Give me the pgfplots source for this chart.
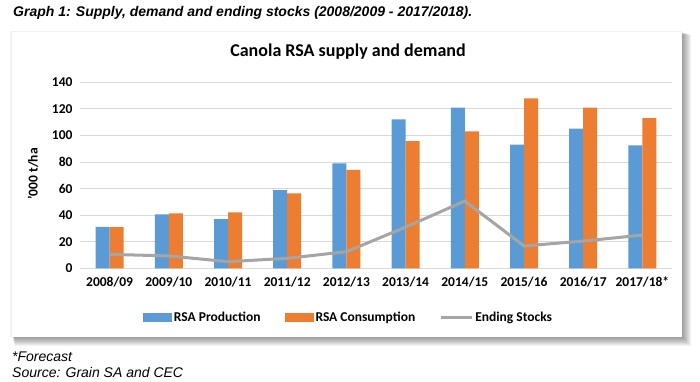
\documentclass[border=0pt]{standalone}
\usepackage{fontspec}
\setmainfont{Carlito}
\newfontfamily\arialf{Liberation Sans}
\usepackage{pgfplots}
\pgfplotsset{compat=1.18}
\definecolor{cblue}{HTML}{5B9BD5}
\definecolor{corange}{HTML}{ED7D31}
\definecolor{cgray}{HTML}{A5A5A5}
\definecolor{cgrid}{HTML}{D9D9D9}
\pgfplotstableread{
x prod cons stocks
0 31.1 31.0 10.5
1 40.6 41.4 9.3
2 37.1 42.1 5.0
3 58.9 56.4 7.5
4 79.0 74.0 12.5
5 112.1 95.8 31.0
6 120.9 103.1 50.6
7 93.0 127.9 16.8
8 105.1 120.9 20.5
9 92.6 113.1 25.0
}\datatable
\begin{document}
\begin{tikzpicture}[x=1pt,y=1pt]
\useasboundingbox (0,0) rectangle (700,382);
% shadow
\foreach \k in {9,8,...,1}{
  \fill[black,opacity=0.05] (12+0.3*\k,45-\k) rectangle (682+\k,350-0.3*\k);
}
\fill[black,opacity=0.05] (10,45) rectangle (682,351);
\fill[white] (12,45) rectangle (682,350);
\node[anchor=west,inner sep=0pt,font=\arialf\bfseries\itshape\fontsize{14}{16}\selectfont] at (13,369) {Graph 1: Supply, demand and ending stocks (2008/2009 - 2017/2018).};
\node[anchor=west,inner sep=0pt,font=\arialf\itshape\fontsize{14}{16}\selectfont] at (12,25) {*Forecast};
\node[anchor=west,inner sep=0pt,font=\arialf\itshape\fontsize{14}{16}\selectfont] at (12,9) {Source: Grain SA and CEC};
\node[font=\bfseries\fontsize{18}{21}\selectfont] at (348,330) {Canola RSA supply and demand};
\node[rotate=90,font=\bfseries\fontsize{13.5}{16}\selectfont] at (33,208) {'000 t/ha};
\begin{axis}[
  at={(80pt,113.7pt)}, anchor=south west,
  scale only axis, width=592pt, height=186pt,
  xmin=-0.5, xmax=9.5, ymin=0, ymax=140,
  ytick={0,20,...,140},
  xtick=data,
  xticklabels={2008/09,2009/10,2010/11,2011/12,2012/13,2013/14,2014/15,2015/16,2016/17,2017/18*},
  ymajorgrids, major grid style={cgrid,line width=0.8pt},
  axis x line*=bottom, axis y line*=left,
  x axis line style={cgrid,line width=0.8pt,-},
  y axis line style={draw=none},
  major tick length=0pt,
  tick style={draw=none},
  /pgf/number format/assume math mode=true,
  ticklabel style={font=\bfseries\fontsize{13.5}{16}\selectfont},
  xticklabel style={yshift=-5pt},
  yticklabel style={xshift=-4pt},
  ybar=0pt, bar width=14pt,
  legend columns=3,
  legend style={at={(0.4535,-0.267)},anchor=center,draw=none,fill=none,
    font=\bfseries\fontsize{13.5}{16}\selectfont,
    /tikz/every even column/.append style={column sep=22pt}},
  legend cell align=left,
]
\addplot[fill=cblue,draw=none,bar shift=-7pt,
  legend image code/.code={\fill[cblue] (0pt,-4.5pt) rectangle (29pt,4.5pt);}]
  table[x=x,y=prod]{\datatable};
\addlegendentry{RSA Production}
\addplot[fill=corange,draw=none,bar shift=7pt,
  legend image code/.code={\fill[corange] (0pt,-4.5pt) rectangle (29pt,4.5pt);}]
  table[x=x,y=cons]{\datatable};
\addlegendentry{RSA Consumption}
\addplot[sharp plot,cgray,line width=3pt,mark=none,
  legend image code/.code={\draw[cgray,line width=3pt] (0pt,0pt) -- (31pt,0pt);}]
  table[x=x,y=stocks]{\datatable};
\addlegendentry{Ending Stocks}
\end{axis}
\end{tikzpicture}
\end{document}
